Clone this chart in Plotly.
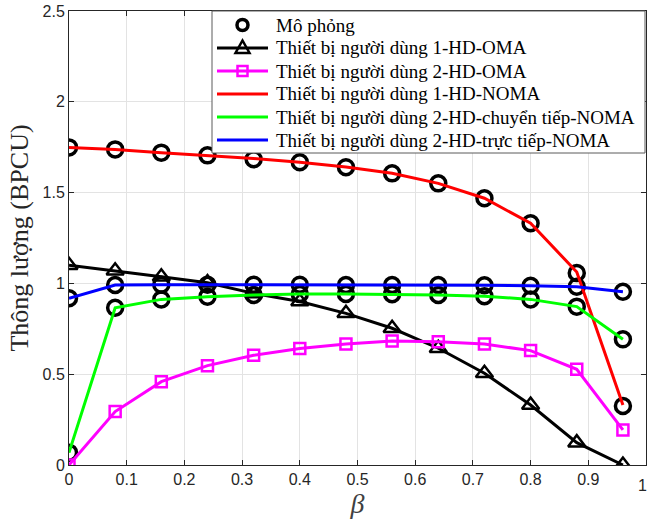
import plotly.graph_objects as go

# Power-splitting factor beta
beta = [0, 0.08, 0.16, 0.24, 0.32, 0.40, 0.48, 0.56, 0.64, 0.72, 0.80, 0.88, 0.96]

# Analytical throughput (BPCU)
ue1_hd_oma = [1.10, 1.07, 1.037, 1.004, 0.945, 0.90, 0.835, 0.753, 0.643, 0.505, 0.330, 0.123, 0.0]
ue2_hd_oma = [0.0, 0.294, 0.459, 0.547, 0.604, 0.641, 0.666, 0.683, 0.679, 0.666, 0.630, 0.527, 0.193]
ue1_hd_noma = [1.749, 1.738, 1.720, 1.705, 1.688, 1.667, 1.641, 1.606, 1.551, 1.469, 1.331, 1.063, 0.330]
ue2_relay_noma = [0.068, 0.866, 0.912, 0.927, 0.936, 0.942, 0.942, 0.940, 0.936, 0.929, 0.912, 0.872, 0.692]
ue2_direct_noma = [0.918, 0.991, 0.993, 0.993, 0.993, 0.993, 0.991, 0.991, 0.991, 0.990, 0.987, 0.982, 0.954]

# Monte-Carlo simulation results
sim_ue1_noma = [1.749, 1.738, 1.720, 1.705, 1.684, 1.667, 1.640, 1.606, 1.551, 1.469, 1.331, 1.057, 0.325]
sim_ue2_relay = [0.068, 0.866, 0.912, 0.927, 0.936, 0.942, 0.942, 0.940, 0.936, 0.929, 0.912, 0.872, 0.692]
sim_ue2_direct = [0.918, 0.991, 0.993, 0.993, 0.993, 0.993, 0.991, 0.991, 0.991, 0.990, 0.987, 0.982, 0.954]

legend_names = [
    "Mô phỏng",
    "Thiết bị người dùng 1-HD-OMA",
    "Thiết bị người dùng 2-HD-OMA",
    "Thiết bị người dùng 1-HD-NOMA",
    "Thiết bị người dùng 2-HD-chuyển tiếp-NOMA",
    "Thiết bị người dùng 2-HD-trực tiếp-NOMA",
]

x_ticks = [0, 0.1, 0.2, 0.3, 0.4, 0.5, 0.6, 0.7, 0.8, 0.9, 1]
x_tick_text = ["0", "0.1", "0.2", "0.3", "0.4", "0.5", "0.6", "0.7", "0.8", "0.9", "1"]
y_ticks = [0, 0.5, 1, 1.5, 2, 2.5]
y_tick_text = ["0", "0.5", "1", "1.5", "2", "2.5"]

SERIF = "Liberation Serif"
SANS = "Liberation Sans"
TICK_GRAY = "#262626"

# Figure and plot-area geometry (pixels)
W, H = 647, 525
ML, MR, MT, MB = 69, 1, 11, 60
PW, PH = W - ML - MR, H - MT - MB


def px_x(px):
    """Horizontal pixel -> paper fraction of the plot area."""
    return (px - ML) / PW


def px_y(py):
    """Vertical pixel (from top) -> paper fraction of the plot area."""
    return (H - MB - py) / PH


fig = go.Figure()

# Simulation markers first, analytical curves on top
sim_marker = dict(symbol="circle-open", size=15, color="black", line=dict(width=3.5, color="black"))
for ys in [sim_ue1_noma, sim_ue2_relay, sim_ue2_direct]:
    fig.add_trace(go.Scatter(x=beta, y=ys, mode="markers", marker=sim_marker,
                             name=legend_names[0], showlegend=False))

fig.add_trace(go.Scatter(
    x=beta, y=ue1_hd_oma, mode="lines+markers", name=legend_names[1], showlegend=False,
    line=dict(color="black", width=3),
    marker=dict(symbol="triangle-up-open", size=15, color="black", line=dict(width=2.5, color="black")),
))
fig.add_trace(go.Scatter(
    x=beta, y=ue2_hd_oma, mode="lines+markers", name=legend_names[2], showlegend=False,
    line=dict(color="#ff00ff", width=3),
    marker=dict(symbol="square-open", size=11, color="#ff00ff", line=dict(width=2.5, color="#ff00ff")),
))
fig.add_trace(go.Scatter(x=beta, y=ue1_hd_noma, mode="lines", name=legend_names[3], showlegend=False,
                         line=dict(color="#ff0000", width=3)))
fig.add_trace(go.Scatter(x=beta, y=ue2_relay_noma, mode="lines", name=legend_names[4], showlegend=False,
                         line=dict(color="#00ff00", width=3)))
fig.add_trace(go.Scatter(x=beta, y=ue2_direct_noma, mode="lines", name=legend_names[5], showlegend=False,
                         line=dict(color="#0000ff", width=3)))

# ---- Legend box (MATLAB style) built from shapes and annotations ----
LEG_LEFT, LEG_RIGHT, LEG_TOP, LEG_BOTTOM = 212, 645, 11, 153
ROW0, ROW_STEP = 25, 23
SAMPLE_X0, SAMPLE_X1, TEXT_X = 217, 268, 274
SYM_X = (SAMPLE_X0 + SAMPLE_X1) / 2

legend_styles = [
    dict(line=None, color="black", symbol="circle"),
    dict(line="black", color="black", symbol="triangle"),
    dict(line="#ff00ff", color="#ff00ff", symbol="square"),
    dict(line="#ff0000", color="#ff0000", symbol=None),
    dict(line="#00ff00", color="#00ff00", symbol=None),
    dict(line="#0000ff", color="#0000ff", symbol=None),
]

shapes = [dict(type="rect", xref="paper", yref="paper", layer="above",
               x0=px_x(LEG_LEFT), x1=px_x(LEG_RIGHT), y0=px_y(LEG_BOTTOM), y1=px_y(LEG_TOP),
               fillcolor="white", line=dict(color="#5a5a5a", width=1))]
annotations = []
for i, (name, st) in enumerate(zip(legend_names, legend_styles)):
    yc = px_y(ROW0 + i * ROW_STEP)
    if st["line"]:
        shapes.append(dict(type="line", xref="paper", yref="paper", layer="above",
                           x0=px_x(SAMPLE_X0), x1=px_x(SAMPLE_X1), y0=yc, y1=yc,
                           line=dict(color=st["line"], width=3)))
    common = dict(xref="paper", yref="paper", layer="above", xsizemode="pixel", ysizemode="pixel",
                  xanchor=px_x(SYM_X), yanchor=yc)
    if st["symbol"] == "circle":
        shapes.append(dict(type="circle", x0=-5.5, x1=5.5, y0=-5.5, y1=5.5,
                           line=dict(color="black", width=3.5), fillcolor="rgba(0,0,0,0)", **common))
    elif st["symbol"] == "triangle":
        shapes.append(dict(type="path", path="M-7,-5 L7,-5 L0,7.5 Z",
                           line=dict(color="black", width=2.5), fillcolor="rgba(0,0,0,0)", **common))
    elif st["symbol"] == "square":
        shapes.append(dict(type="path", path="M-5,-5 L5,-5 L5,5 L-5,5 Z",
                           line=dict(color="#ff00ff", width=2.5), fillcolor="rgba(0,0,0,0)", **common))
    annotations.append(dict(xref="paper", yref="paper", x=px_x(TEXT_X), y=yc,
                            xanchor="left", yanchor="middle", showarrow=False, text=name,
                            font=dict(family=SERIF, size=19, color="black")))

# Last x tick label sits against the right edge of the figure
annotations.append(dict(xref="x", yref="paper", x=x_ticks[-1], y=0, yshift=-20, xshift=3,
                        xanchor="right", yanchor="middle", showarrow=False, text=x_tick_text[-1],
                        font=dict(family=SANS, size=16, color=TICK_GRAY)))

axis_common = dict(
    showline=True, linecolor=TICK_GRAY, linewidth=1, mirror="ticks",
    ticks="inside", ticklen=5, tickcolor=TICK_GRAY,
    showgrid=True, gridcolor="#e3e3e3", gridwidth=1, zeroline=False,
    tickfont=dict(family=SANS, size=16, color=TICK_GRAY),
)

fig.update_layout(
    width=W, height=H,
    margin=dict(l=ML, r=MR, t=MT, b=MB),
    paper_bgcolor="white", plot_bgcolor="white",
    font=dict(family=SERIF),
    showlegend=False,
    xaxis=dict(
        range=[0, 1], tickvals=x_ticks, ticktext=x_tick_text[:-1] + [""],
        title=dict(text="<i>β</i>", font=dict(family=SERIF, size=28, color="#404040"), standoff=4),
        **axis_common,
    ),
    yaxis=dict(
        range=[0, 2.5], tickvals=y_ticks, ticktext=y_tick_text,
        title=dict(text="Thông lượng (BPCU)", font=dict(family=SERIF, size=26, color=TICK_GRAY), standoff=6),
        **axis_common,
    ),
    shapes=shapes,
    annotations=annotations,
)

fig.write_html("out.html")
